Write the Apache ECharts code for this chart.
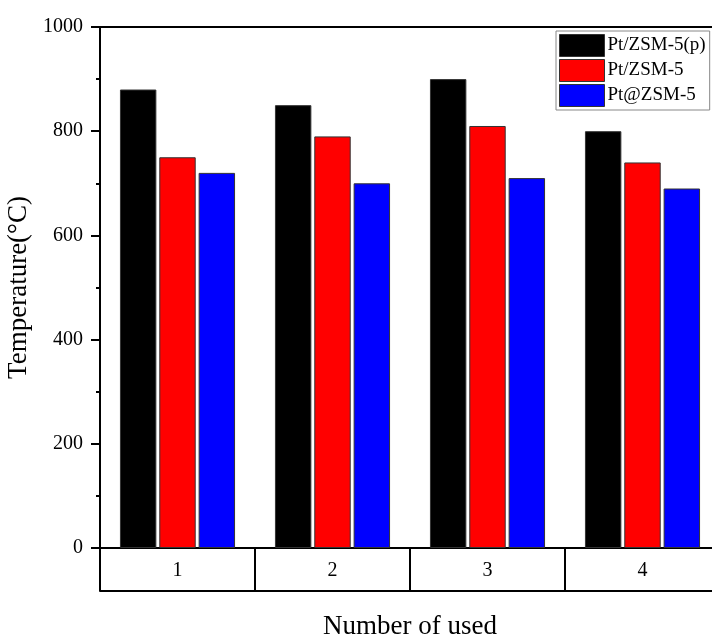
<!DOCTYPE html>
<html>
<head>
<meta charset="utf-8">
<script src="https://cdn.jsdelivr.net/npm/echarts@6/dist/echarts.min.js"></script>
<style>html,body{margin:0;padding:0;background:#fff;}#c{width:712px;height:638px;}</style>
</head>
<body>
<div id="c"></div>
<script>
var categories = ['1', '2', '3', '4'];
var seriesNames = ['Pt/ZSM-5(p)', 'Pt/ZSM-5', 'Pt@ZSM-5'];
var ptZsm5p = [880, 850, 900, 800];
var ptZsm5 = [750, 790, 810, 740];
var ptAtZsm5 = [720, 700, 710, 690];
var yTicks = [0, 200, 400, 600, 800, 1000];
var colors = ['#000000', '#ff0000', '#0000ff'];

var FONT = '"Liberation Serif", "Times New Roman", serif';
var chart = echarts.init(document.getElementById('c'), null, {renderer: 'canvas'});
var seriesData = [ptZsm5p, ptZsm5, ptAtZsm5];

chart.setOption({
  animation: false,
  backgroundColor: '#ffffff',
  grid: {left: 100, top: 27, width: 620, bottom: 90, containLabel: false, outerBoundsMode: 'none'},
  legend: {
    orient: 'vertical', left: 556, top: 31,
    itemWidth: 45, itemHeight: 22, itemGap: 2,
    padding: [3, 4, 3, 3],
    icon: 'rect',
    backgroundColor: '#ffffff', borderColor: '#888888', borderWidth: 1,
    itemStyle: {borderColor: '#333', borderWidth: 1},
    textStyle: {fontFamily: FONT, fontSize: 19, color: '#000', padding: [0, 0, 0, -2]},
    data: seriesNames
  },
  xAxis: [
    {
      type: 'category', data: categories, position: 'bottom',
      axisLine: {show: true, lineStyle: {color: '#000', width: 2}},
      axisTick: {show: true, length: 43, interval: 0, alignWithLabel: false, lineStyle: {color: '#000', width: 2}},
      axisLabel: {fontFamily: FONT, fontSize: 20, color: '#000', margin: 13},
      name: 'Number of used', nameLocation: 'middle', nameGap: 65,
      nameTextStyle: {fontFamily: FONT, fontSize: 27, color: '#000'}
    },
    {
      type: 'category', data: categories, position: 'bottom', offset: 43,
      axisLine: {show: true, lineStyle: {color: '#000', width: 2}},
      axisTick: {show: false}, axisLabel: {show: false}
    },
    {
      type: 'category', data: categories, position: 'top',
      axisLine: {show: true, lineStyle: {color: '#000', width: 2}},
      axisTick: {show: false}, axisLabel: {show: false}
    }
  ],
  yAxis: {
    type: 'value', min: yTicks[0], max: yTicks[yTicks.length - 1], interval: 200,
    axisLine: {show: true, lineStyle: {color: '#000', width: 2}},
    axisTick: {show: true, inside: false, length: 9, lineStyle: {color: '#000', width: 2}},
    minorTick: {show: true, splitNumber: 2, length: 4, lineStyle: {color: '#000', width: 2}},
    splitLine: {show: false},
    axisLabel: {fontFamily: FONT, fontSize: 20, color: '#000', margin: 17, formatter: function (v) { return String(v); }},
    name: 'Temperature(°C)', nameLocation: 'middle', nameGap: 66,
    nameTextStyle: {fontFamily: FONT, fontSize: 27, color: '#000'}
  },
  series: seriesNames.map(function (n, i) {
    return {
      name: n, type: 'bar', xAxisIndex: 0, data: seriesData[i],
      barWidth: '23.5%', barGap: '8%',
      itemStyle: {color: colors[i], borderColor: '#333', borderWidth: 1}
    };
  })
});
</script>
</body>
</html>
